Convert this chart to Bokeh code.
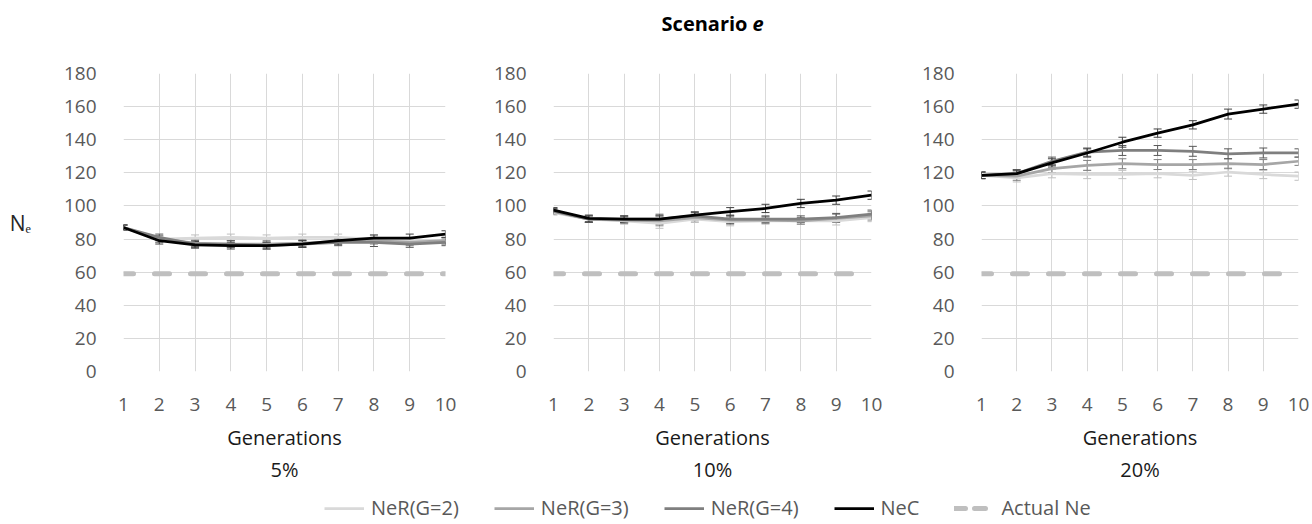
from bokeh.plotting import figure
from bokeh.models import (ColumnDataSource, Whisker, TeeHead, Title, Legend, LegendItem,
                          FixedTicker, Range1d)
from bokeh.layouts import row, column
from bokeh.embed import file_html
from bokeh.resources import INLINE
from bokeh.core.properties import value

# ---------------- data ----------------
generations = [1, 2, 3, 4, 5, 6, 7, 8, 9, 10]
y_ticks = [0, 20, 40, 60, 80, 100, 120, 140, 160, 180]
actual_ne = 59

series_names = ["NeR(G=2)", "NeR(G=3)", "NeR(G=4)", "NeC"]
panel_labels = ["5%", "10%", "20%"]

# 5 %
ner2_5 = [87, 80, 80.5, 81, 80.5, 81, 81, 80, 79, 79]
ner3_5 = [87, 80, 77.5, 77, 77, 77.5, 78.5, 79, 78, 79]
ner4_5 = [87, 81, 77, 77, 76, 77, 78, 78, 77, 78]
nec_5 = [87, 79, 76.5, 76, 76, 77, 79, 80.5, 80.5, 83]
err_ner2_5 = [1.5, 2, 2, 2, 2, 2, 2, 2, 2, 2]
err_ner3_5 = [1.5, 2, 2, 2, 2, 2, 2, 2, 2, 2]
err_ner4_5 = [1.5, 2, 2, 2, 2, 2, 2, 2.5, 2, 2]
err_nec_5 = [1.5, 2, 2, 2, 2, 2, 2, 2, 2.5, 2]

# 10 %
ner2_10 = [96, 92, 91, 89.5, 92, 90.5, 91, 91, 91, 93]
ner3_10 = [96.5, 92, 91.5, 91, 93, 91.5, 91.5, 91, 92.5, 94]
ner4_10 = [97, 92, 92, 92, 94, 92, 92, 92, 93, 95]
nec_10 = [97.5, 92.5, 92, 92, 94.5, 96.5, 98.5, 101.5, 103.5, 106.5]
err_ner2_10 = [1.5, 2, 2, 3, 2, 2.5, 2, 2, 2.5, 2.5]
err_ner3_10 = [1.5, 2, 2, 3, 2, 2.5, 2, 2, 2.5, 2.5]
err_ner4_10 = [1.5, 2, 2, 3, 2, 2.5, 2, 2, 2.5, 2.5]
err_nec_10 = [1.5, 2, 2, 2, 2, 2.5, 2.5, 2.5, 2.5, 2.5]

# 20 %
ner2_20 = [118.5, 117, 119.5, 119, 119, 119.5, 118.5, 120.5, 119, 118]
ner3_20 = [118.5, 118, 122.5, 124.5, 125.5, 125, 125, 125.5, 125, 127]
ner4_20 = [118.5, 119.5, 127, 132.5, 133.5, 133.5, 133, 131.5, 132, 132]
nec_20 = [118.5, 119.5, 126, 132, 138.5, 144, 149, 155.5, 158.5, 161.5]
err_ner2_20 = [2, 2.5, 2.5, 2.5, 2.5, 2.5, 2.5, 2.5, 2.5, 2.5]
err_ner3_20 = [2, 2.5, 2.5, 3, 3, 3, 3, 3, 3, 2.5]
err_ner4_20 = [2, 2.5, 2.5, 2.5, 3, 3, 3, 3, 3, 2.5]
err_nec_20 = [2, 2, 2.5, 2.5, 3, 2.5, 2.5, 3, 2.5, 2.5]

panels = [
    ([ner2_5, ner3_5, ner4_5, nec_5], [err_ner2_5, err_ner3_5, err_ner4_5, err_nec_5]),
    ([ner2_10, ner3_10, ner4_10, nec_10], [err_ner2_10, err_ner3_10, err_ner4_10, err_nec_10]),
    ([ner2_20, ner3_20, ner4_20, nec_20], [err_ner2_20, err_ner3_20, err_ner4_20, err_nec_20]),
]

# ---------------- style ----------------
FONT = "Open Sans"
line_colors = ["#d9d9d9", "#a6a6a6", "#7f7f7f", "#000000"]
err_colors = ["#c0c0c0", "#7f7f7f", "#595959", "#404040"]
line_widths = [2.75, 2.75, 2.75, 2.75]
actual_color = "#bfbfbf"
grid_color = "#d9d9d9"
tick_color = "#595959"

TOP_H = 61          # header figure height
ROW_TOP = 12        # top border inside panel figures
FRAME_H = 298
ROW_BOTTOM = 119
LEG_H = 524 - TOP_H - ROW_TOP - FRAME_H - ROW_BOTTOM

geom = [  # (width, left border, right border)
    (490, 123, 45),
    (428, 59, 47),
    (394, 58, 14),
]


def make_panel(i):
    width, left, right = geom[i]
    vals, errs = panels[i]
    p = figure(width=width, height=ROW_TOP + FRAME_H + ROW_BOTTOM,
               output_backend="svg", toolbar_location=None,
               x_range=Range1d(1, 10), y_range=Range1d(0, 180),
               min_border_left=left, min_border_right=right,
               min_border_top=ROW_TOP, min_border_bottom=ROW_BOTTOM)
    p.outline_line_color = None
    p.background_fill_color = "white"
    p.border_fill_color = "white"

    p.xaxis.ticker = FixedTicker(ticks=generations)
    p.yaxis.ticker = FixedTicker(ticks=y_ticks)
    for ax in (p.xaxis, p.yaxis):
        ax.axis_line_color = None
        ax.major_tick_line_color = None
        ax.minor_tick_line_color = None
        ax.major_label_text_font = FONT
        ax.major_label_text_font_size = "19px"
        ax.major_label_text_color = tick_color
    p.yaxis.major_label_standoff = 21
    p.xaxis.major_label_standoff = 20
    p.xaxis.axis_label = "Generations"
    p.xaxis.axis_label_text_font = FONT
    p.xaxis.axis_label_text_font_size = "20px"
    p.xaxis.axis_label_text_font_style = "normal"
    p.xaxis.axis_label_text_color = "#1a1a1a"
    p.xaxis.axis_label_standoff = 10

    p.grid.grid_line_color = grid_color
    p.grid.grid_line_width = 1

    # actual Ne
    p.line(generations, [actual_ne] * len(generations), line_color=actual_color,
           line_width=5, line_dash="15 21", line_dash_offset=5, line_cap="round")

    for k in range(4):
        v = vals[k]
        e = errs[k]
        src = ColumnDataSource(dict(x=generations, y=v,
                                    lo=[a - b for a, b in zip(v, e)],
                                    hi=[a + b for a, b in zip(v, e)]))
        p.line("x", "y", source=src, line_color=line_colors[k], line_width=line_widths[k],
               line_join="round")
        w = Whisker(base="x", lower="lo", upper="hi", source=src,
                    line_color=err_colors[k], line_width=1,
                    upper_head=TeeHead(size=8, line_color=err_colors[k], line_width=1),
                    lower_head=TeeHead(size=8, line_color=err_colors[k], line_width=1))
        p.add_layout(w)

    sub = Title(text=panel_labels[i], align="center", text_font=FONT,
                text_font_size="20px", text_font_style="normal", text_color="#1a1a1a",
                standoff=0, offset=0)
    p.add_layout(sub, "below")
    return p


p1 = make_panel(0)
p2 = make_panel(1)
p3 = make_panel(2)

# N_e label on the first panel (horizontal y-axis label)
p1.yaxis.axis_label = "N\u2091"
p1.yaxis.axis_label_orientation = "horizontal"
p1.yaxis.axis_label_text_font = FONT
p1.yaxis.axis_label_text_font_size = "21px"
p1.yaxis.axis_label_text_font_style = "normal"
p1.yaxis.axis_label_text_color = "#262626"
p1.yaxis.axis_label_standoff = 30

# Header figure with the title
pt = figure(width=1312, height=TOP_H, output_backend="svg", toolbar_location=None,
            x_axis_type=None, y_axis_type=None, min_border=0,
            x_range=Range1d(0, 1312), y_range=Range1d(0, TOP_H))
pt.outline_line_color = None
pt.grid.visible = False
title_main = ["Scenario"]
title_ital = ["e"]
pt.text(x=[747], y=[TOP_H - 23], text=title_main, text_align="right", text_baseline="middle",
        text_font=value(FONT), text_font_size="20px", text_font_style="bold", text_color="black")
pt.text(x=[752], y=[TOP_H - 23], text=title_ital, text_align="left", text_baseline="middle",
        text_font=value(FONT), text_font_size="20px", text_font_style="bold italic",
        text_color="black")

# Legend figure
pl = figure(width=1312, height=LEG_H, output_backend="svg", toolbar_location=None,
            x_axis_type=None, y_axis_type=None, min_border=0,
            x_range=Range1d(0, 1), y_range=Range1d(0, 1))
pl.outline_line_color = None
pl.grid.visible = False
items = []
for k in range(4):
    r = pl.line(x=[-5, -4], y=[-5, -5], line_color=line_colors[k], line_width=line_widths[k])
    items.append(LegendItem(label=series_names[k], renderers=[r]))
ra = pl.line(x=[-5, -4], y=[-5, -5], line_color=actual_color, line_width=5,
             line_dash="11 9", line_cap="round")
items.append(LegendItem(label="Actual Ne", renderers=[ra]))
legend = Legend(items=items, orientation="horizontal", location=(324, 3),
                label_text_font=FONT, label_text_font_size="20px", label_text_color=tick_color,
                glyph_width=40, glyph_height=20, label_standoff=7, spacing=35,
                padding=0, margin=0, border_line_color=None, background_fill_alpha=0)
pl.add_layout(legend)

layout = column(pt, row(p1, p2, p3), pl)
open("out.html", "w").write(file_html(layout, INLINE))
